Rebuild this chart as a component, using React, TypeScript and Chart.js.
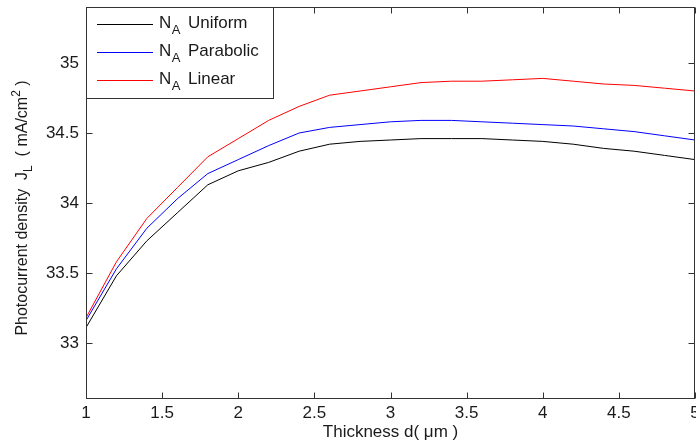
import React, { useEffect, useRef } from "react";
import { Chart, registerables } from "chart.js";

Chart.register(...registerables);

const thickness = [1, 1.2, 1.4, 1.6, 1.8, 2, 2.2, 2.4, 2.6, 2.8, 3, 3.2, 3.4, 3.6, 3.8, 4, 4.2, 4.4, 4.6, 4.8, 5];
const uniform = [33.11, 33.48, 33.73, 33.93, 34.13, 34.23, 34.29, 34.37, 34.42, 34.44, 34.45, 34.46, 34.46, 34.46, 34.45, 34.44, 34.42, 34.39, 34.37, 34.34, 34.31];
const parabolic = [33.16, 33.53, 33.82, 34.03, 34.21, 34.31, 34.41, 34.5, 34.54, 34.56, 34.58, 34.59, 34.59, 34.58, 34.57, 34.56, 34.55, 34.53, 34.51, 34.48, 34.45];
const linear = [33.18, 33.58, 33.89, 34.11, 34.33, 34.46, 34.59, 34.69, 34.77, 34.8, 34.83, 34.86, 34.87, 34.87, 34.88, 34.89, 34.87, 34.85, 34.84, 34.82, 34.8];

const seriesNames = ["Uniform", "Parabolic", "Linear"];
const seriesColors = ["#000000", "#0000ff", "#ff0000"];
const xTicks = [1, 1.5, 2, 2.5, 3, 3.5, 4, 4.5, 5];
const yTicks = [33, 33.5, 34, 34.5, 35];
const xTitle = "Thickness d( μm )";
const yTitleParts = ["Photocurrent density  J", "L", "  ( mA/cm", "2", " )"];

const FONT = '"Liberation Sans", Arial, sans-serif';

const framePlugin = {
  id: "frame",
  afterDraw(chart: any) {
    const ctx = chart.ctx;
    const { left, right, top, bottom } = chart.chartArea;
    const L = Math.round(left) + 0.5;
    const R = Math.round(right) - 0.5;
    const T = Math.round(top) + 0.5;
    const B = Math.round(bottom) - 0.5;
    ctx.save();
    ctx.strokeStyle = "#333333";
    ctx.lineWidth = 1;
    ctx.strokeRect(L, T, R - L, B - T);
    const xs = chart.scales.x;
    const ys = chart.scales.y;
    const tl = 6;
    ctx.beginPath();
    xTicks.forEach((v) => {
      const px = Math.round(xs.getPixelForValue(v)) + 0.5;
      ctx.moveTo(px, B);
      ctx.lineTo(px, B - tl);
      ctx.moveTo(px, T);
      ctx.lineTo(px, T + tl);
    });
    yTicks.forEach((v) => {
      const py = Math.round(ys.getPixelForValue(v)) + 0.5;
      ctx.moveTo(L, py);
      ctx.lineTo(L + tl, py);
      ctx.moveTo(R, py);
      ctx.lineTo(R - tl, py);
    });
    ctx.stroke();

    ctx.fillStyle = "#1a1a1a";
    ctx.font = `17px ${FONT}`;
    ctx.textAlign = "center";
    ctx.textBaseline = "alphabetic";
    ctx.fillText(xTitle, (left + right) / 2, 437);

    ctx.save();
    const big = `16px ${FONT}`;
    const small = `12px ${FONT}`;
    const fonts = [big, small, big, small, big];
    const offs = [0, 5, 0, -7, 0];
    let total = 0;
    const widths = yTitleParts.map((t, i) => {
      ctx.font = fonts[i];
      const w = ctx.measureText(t).width;
      total += w;
      return w;
    });
    ctx.translate(27, 208);
    ctx.rotate(-Math.PI / 2);
    ctx.textAlign = "left";
    let cx = -total / 2;
    yTitleParts.forEach((t, i) => {
      ctx.font = fonts[i];
      ctx.fillText(t, cx, offs[i]);
      cx += widths[i];
    });
    ctx.restore();

    const bx = Math.round(left) + 0.5;
    const by = Math.round(top) + 0.5;
    const bw = 187;
    const bh = 91;
    ctx.fillStyle = "#ffffff";
    ctx.fillRect(bx, by, bw, bh);
    ctx.strokeStyle = "#333333";
    ctx.strokeRect(bx, by, bw, bh);
    const rows = [24, 52, 80];
    chart.data.datasets.forEach((ds: any, i: number) => {
      const y = rows[i] + 0.5;
      ctx.strokeStyle = ds.borderColor;
      ctx.lineWidth = 1;
      ctx.beginPath();
      ctx.moveTo(97, y);
      ctx.lineTo(153, y);
      ctx.stroke();
      ctx.fillStyle = "#1a1a1a";
      ctx.textAlign = "left";
      ctx.font = `17px ${FONT}`;
      ctx.fillText("N", 159, rows[i] + 4);
      const nw = ctx.measureText("N").width;
      ctx.font = `13px ${FONT}`;
      ctx.fillText("A", 159 + nw + 0.5, rows[i] + 10);
      ctx.font = `17px ${FONT}`;
      ctx.fillText(seriesNames[i], 188, rows[i] + 4);
    });
    ctx.restore();
  },
};

export default function App() {
  const ref = useRef<HTMLCanvasElement | null>(null);
  useEffect(() => {
    if (!ref.current) return;
    const series = [uniform, parabolic, linear];
    const chart = new Chart(ref.current, {
      type: "line",
      data: {
        datasets: series.map((s, i) => ({
          label: "N_A " + seriesNames[i],
          data: thickness.map((x, j) => ({ x, y: s[j] })),
          borderColor: seriesColors[i],
          backgroundColor: seriesColors[i],
          borderWidth: 1,
          pointRadius: 0,
          tension: 0,
          fill: false,
        })),
      },
      options: {
        animation: false,
        responsive: false,
        devicePixelRatio: 1,
        layout: { padding: { top: 7, right: 1, left: 0, bottom: 0 } },
        plugins: { legend: { display: false }, tooltip: { enabled: false }, title: { display: false } },
        scales: {
          x: {
            type: "linear",
            min: 1,
            max: 5,
            grid: { display: false, drawTicks: false },
            border: { display: false },
            afterBuildTicks: (s: any) => {
              s.ticks = xTicks.map((v) => ({ value: v }));
            },
            afterFit: (s: any) => {
              s.height = 47;
              s.paddingLeft = 0;
              s.paddingRight = 0;
            },
            ticks: {
              autoSkip: false,
              maxRotation: 0,
              padding: 4,
              color: "#1a1a1a",
              font: { family: FONT, size: 17 },
              callback: (v: any) => String(v),
            },
          },
          y: {
            type: "linear",
            min: 32.6,
            max: 35.4,
            grid: { display: false, drawTicks: false },
            border: { display: false },
            afterBuildTicks: (s: any) => {
              s.ticks = yTicks.map((v) => ({ value: v }));
            },
            afterFit: (s: any) => {
              s.width = 86;
              s.paddingTop = 0;
              s.paddingBottom = 0;
            },
            ticks: {
              autoSkip: false,
              padding: 7,
              color: "#1a1a1a",
              font: { family: FONT, size: 17 },
              callback: (v: any) => String(v),
            },
          },
        },
      },
      plugins: [framePlugin],
    });
    return () => chart.destroy();
  }, []);
  return (
    <div style={{ position: "fixed", left: 0, top: 0, width: 696, height: 446, background: "#fff" }}>
      <canvas ref={ref} width={696} height={446} style={{ display: "block", width: 696, height: 446 }} />
    </div>
  );
}
